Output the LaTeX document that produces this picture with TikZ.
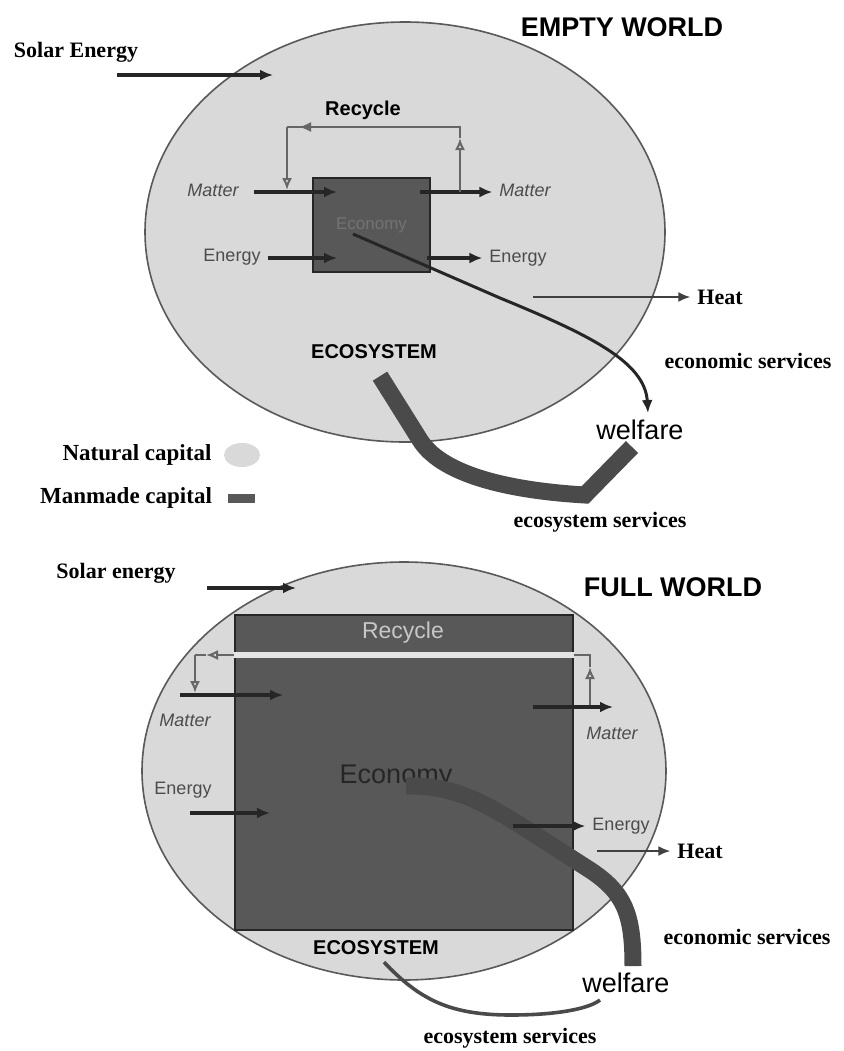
\documentclass[tikz,border=0pt]{standalone}
\usepackage{fontspec}
\setmainfont{Liberation Serif}
\setsansfont{Liberation Sans}
\usetikzlibrary{arrows.meta}
\definecolor{natgrey}{HTML}{D9D9D9}
\definecolor{mangrey}{HTML}{585858}
\definecolor{bandgrey}{HTML}{4A4A4A}

\begin{document}
\begin{tikzpicture}[x=0.5pt, y=-0.5pt,
  natural/.style={fill=natgrey, draw=black!65, line width=0.8pt},
  manmade/.style={fill=mangrey, draw=black!85, line width=0.6pt},
  flow/.style={-{Latex[length=6.5pt,width=5.5pt]}, line width=1.7pt, black!85},
  recline/.style={line width=1pt, black!60},
  recyc/.style={recline, -{Latex[open,length=6pt,width=5pt]}},
  heatflow/.style={-{Latex[length=6pt,width=5pt]}, line width=1pt, black!75},
  band/.style={line width=8.5pt, bandgrey},
  title/.style={font=\sffamily\bfseries\fontsize{13.5}{15}\selectfont},
  serlab/.style={font=\bfseries\fontsize{11}{12}\selectfont},
  boldsans/.style={font=\sffamily\bfseries\fontsize{10}{12}\selectfont},
  wellab/.style={font=\sffamily\fontsize{13.5}{15}\selectfont},
  mat/.style={font=\sffamily\itshape\fontsize{9}{10}\selectfont, text=black!70},
  ener/.style={font=\sffamily\fontsize{9}{10}\selectfont, text=black!70}]
  \useasboundingbox (0,0) rectangle (843,1051);
  \fill[white] (0,0) rectangle (843,1051);

  % empty world
  \draw[natural] (405,232) ellipse [x radius=260, y radius=210];
  \node[title] (emptyw) at (622,27) {EMPTY WORLD};
  \node[serlab] (solar1) at (76,52) {Solar Energy};
  \coordinate (sun1a) at (117,75);
  \coordinate (sun1b) at (273,75);
  \draw[flow] (sun1a) -- (sun1b);
  \node[manmade, minimum width=58.5pt, minimum height=47pt, text=black!55,
    font=\sffamily\fontsize{8.5}{10}\selectfont] (econ1) at (371.5,225) {Economy};
  \node[boldsans] (recyc1) at (363,110) {Recycle};
  \node[mat] (matin1) at (213,190) {Matter};
  \node[mat] (matout1) at (525,190) {Matter};
  \node[ener] (enin1) at (232,257) {Energy};
  \node[ener] (enout1) at (518,258) {Energy};
  \coordinate (matin1b) at (337,192);
  \coordinate (matout1a) at (420,192);
  \coordinate (enin1b) at (337,258);
  \coordinate (enout1a) at (427,258);
  \draw[flow] ([xshift=4pt]matin1.east |- matin1b) -- (matin1b);
  \draw[flow] (matout1a) -- (matout1.west |- matout1a);
  \draw[flow] (enin1.east |- enin1b) -- (enin1b);
  \draw[flow] (enout1a) -- (enout1.west |- enout1a);
  % recycle loop
  \coordinate (rc1a) at (460,192);
  \coordinate (rc1up) at (460,138);
  \coordinate (rc1b) at (460,127);
  \coordinate (rc1lf) at (299,127);
  \coordinate (rc1c) at (287,127);
  \coordinate (rc1d) at (287,190);
  \draw[recline] (rc1up) -- (rc1b) -- (rc1c);
  \draw[recyc] (rc1a) -- (rc1up);
  \draw[recyc] (rc1b) -- (rc1lf);
  \draw[recyc] (rc1c) -- (rc1d);
  \node[serlab] (heat1) at (720,297) {Heat};
  \coordinate (heat1a) at (533,297);
  \draw[heatflow] (heat1a) -- (heat1.west |- heat1a);
  \node[boldsans] (ecosys1) at (374,352) {ECOSYSTEM};
  \node[wellab] (wel1) at (640,430) {welfare};
  \node[serlab] (econserv1) at (748,361) {economic services};
  \node[serlab] (ecoserv1) at (600,522) {ecosystem services};
  \coordinate (es1a) at (353,234);
  \coordinate (es1b) at (500,298);
  \draw[flow, line width=1.5pt] (es1a) -- (es1b) .. controls (590,335) and (645,362) .. ([xshift=4pt]wel1.north);
  \draw[band] ([xshift=3pt,yshift=-5pt]ecosys1.south) -- (420,440) .. controls (440,472) and (500,490) .. (585,495) -- ([xshift=-4pt]wel1.south);
  % legend
  \node[serlab, font=\bfseries\fontsize{11.5}{13}\selectfont] (natcap) at (137,455) {Natural capital};
  \node[serlab, font=\bfseries\fontsize{11.5}{13}\selectfont] (mancap) at (126,498) {Manmade capital};
  \fill[natgrey] (242,455) ellipse [x radius=18, y radius=12];
  \node[fill=mangrey, minimum width=13.5pt, minimum height=4.5pt, inner sep=0pt] (mankey) at (241,498) {};

  % full world
  \draw[natural] (404,771) ellipse [x radius=262, y radius=209];
  \node[title] (fullw) at (673,587) {FULL WORLD};
  \node[serlab] (solar2) at (116,573) {Solar energy};
  \coordinate (sun2a) at (207,588);
  \coordinate (sun2b) at (296,588);
  \draw[flow] (sun2a) -- (sun2b);
  \node[manmade, minimum width=169pt, minimum height=157.5pt] (econ2) at (404,772.5) {};
  \coordinate (stripe) at (404,655);
  \draw[white!90!black, line width=3pt] (econ2.west |- stripe) -- (econ2.east |- stripe);
  \node[font=\sffamily\fontsize{11.5}{13}\selectfont, text=black!22] (recyc2) at (403,633) {Recycle};
  \node[font=\sffamily\fontsize{13.5}{15}\selectfont, text=black!85] (econ2lab) at (396,777) {Economy};
  % recycle loop
  \coordinate (rc2a) at (590,707);
  \coordinate (rc2up) at (590,667);
  \coordinate (rc2b) at (590,655);
  \coordinate (rc2lf) at (206,655);
  \coordinate (rc2c) at (195,655);
  \coordinate (rc2d) at (195,693);
  \draw[recline] (econ2.east |- rc2b) -- (rc2b) -- (rc2up);
  \draw[recyc] (rc2a) -- (rc2up);
  \draw[recyc] (econ2.west |- rc2b) -- (rc2lf);
  \draw[recline] (rc2lf) -- (rc2c);
  \draw[recyc] (rc2c) -- (rc2d);
  % economic services band
  \coordinate (eb2a) at (406,786);
  \node[wellab] (wel2) at (626,983) {welfare};
  \draw[band] (eb2a) .. controls (450,785) and (480,800) .. (520,825) -- (590,870) .. controls (625,893) and (633,915) .. ([xshift=3.5pt]wel2.north);
  \node[mat] (matin2) at (185,720) {Matter};
  \node[ener] (enin2) at (183,790) {Energy};
  \node[mat] (matout2) at (612,733) {Matter};
  \node[ener] (enout2) at (621,826) {Energy};
  \coordinate (mi2a) at (180,695);
  \coordinate (mi2b) at (283,695);
  \coordinate (ei2a) at (190,813);
  \coordinate (ei2b) at (270,813);
  \coordinate (mo2a) at (533,707);
  \coordinate (mo2b) at (613,707);
  \coordinate (eo2a) at (513,826);
  \draw[flow] (mi2a) -- (mi2b);
  \draw[flow] (ei2a) -- (ei2b);
  \draw[flow] (mo2a) -- (mo2b);
  \draw[flow] (eo2a) -- (enout2.west |- eo2a);
  \node[serlab] (heat2) at (700,851) {Heat};
  \coordinate (heat2a) at (597,851);
  \draw[heatflow] (heat2a) -- (heat2.west |- heat2a);
  \node[serlab] (econserv2) at (747,937) {economic services};
  \node[boldsans] (ecosys2) at (376,948) {ECOSYSTEM};
  \draw[line width=1.8pt, bandgrey] ([xshift=4pt]ecosys2.south) .. controls (420,1000) and (450,1015) .. (511,1015) .. controls (560,1015) and (590,1008) .. ([xshift=-13pt]wel2.south);
  \node[serlab] (ecoserv2) at (510,1038) {ecosystem services};
\end{tikzpicture}
\end{document}
